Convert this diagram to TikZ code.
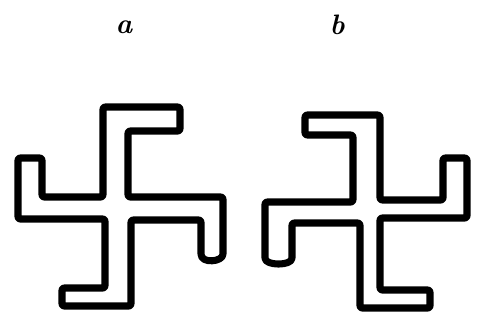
\documentclass[tikz,border=0pt]{standalone}
\usepackage{tikz}

\tikzset{
    hookcross/.style={draw, line width=5pt, line join=round, rounded corners=1.5pt},
    letter/.style={font=\fontsize{20}{24}\selectfont\bfseries\itshape}
}

\begin{document}
\begin{tikzpicture}[x=0.025cm, y=-0.025cm]
    \useasboundingbox (0, 0) rectangle (480, 324);

    \node[letter] (la) at (124, 27) {a};
    \node[letter] (lb) at (337, 25) {b};

    % figure a
    \draw[hookcross] (103, 107) -- (180, 107) -- (180, 131) -- (128, 131)
        -- (128, 197) -- (223, 197) -- (223, 252)
        .. controls (223, 262) and (201, 264) .. (201, 252)
        -- (201, 220) -- (131, 220) -- (131, 306) -- (62, 306) -- (62, 288)
        -- (105, 288) -- (105, 219) -- (18, 219) -- (18, 158) -- (42, 158)
        -- (42, 197) -- (103, 197) -- cycle;

    % figure b
    \draw[hookcross] (305, 115) -- (380, 115) -- (380, 200) -- (443, 200)
        -- (443, 158) -- (467, 158) -- (467, 218) -- (380, 218) -- (380, 290)
        -- (430, 290) -- (430, 308) -- (360, 308) -- (360, 223) -- (292, 223)
        -- (292, 256)
        .. controls (292, 266) and (265, 266) .. (265, 256)
        -- (265, 202) -- (353, 202) -- (353, 135) -- (305, 135) -- cycle;
\end{tikzpicture}
\end{document}
